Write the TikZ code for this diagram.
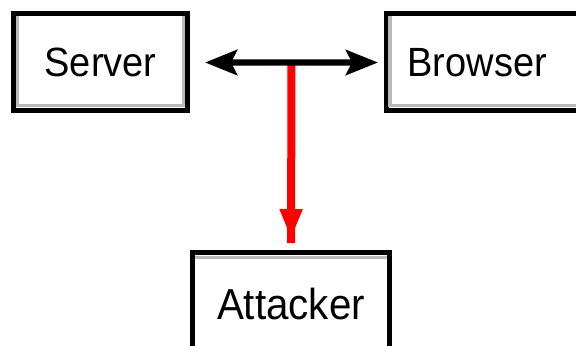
\documentclass[tikz,border=0pt]{standalone}
\usepackage{fontspec}
\setmainfont[FakeStretch=0.93]{Liberation Sans}
\usetikzlibrary{arrows.meta,calc,decorations.markings}
\begin{document}
\begin{tikzpicture}[x=1bp,y=-1bp,
  box/.style={draw=black, line width=5bp, fill=white, inner ysep=0pt, text depth=0pt},
  link/.style={line width=6.4bp, {Stealth[length=32bp,width=25bp,inset=6bp]}-{Stealth[length=32bp,width=25bp,inset=6bp]}},
  leak/.style={draw=red, line width=8bp, postaction={decorate},
    decoration={markings, mark=at position -11bp with {\arrow[red]{Triangle[length=30bp,width=21bp]}}}},
  bevel/.style={draw=black!27, line width=3.5bp}
]
\useasboundingbox (0,0) rectangle (576,345);
\clip (0,0) rectangle (576,345);
\fill[white] (0,0) rectangle (576,345);
\node[box, minimum width=174bp, minimum height=97bp, text height=29.4bp, font=\fontsize{41}{48}\selectfont] (server) at (100.5,62) {Server};
\node[box, anchor=north west, minimum width=230bp, minimum height=97bp, inner xsep=21bp, text width=188bp, align=left, text height=29.4bp, font=\fontsize{41}{48}\selectfont] (browser) at (384,11) {Browser};
\node[box, anchor=north, minimum width=197bp, minimum height=103bp, text height=31.2bp, font=\fontsize{43.5}{50}\selectfont] (attacker) at (291,250) {Attacker};
\draw[bevel] ($(server.north west)+(6.5,5)$) -- ($(server.south west)+(6.5,-7.5)$) -- ($(server.south east)+(-6.5,-7.5)$) -- ($(server.north east)+(-6.5,5)$);
\draw[bevel] ($(browser.north west)+(6,5)$) -- ($(browser.south west)+(6,-7.5)$) -- ($(browser.south east)+(-6,-7.5)$);
\draw[bevel] ($(attacker.north west)+(5,7.5)$) -- ($(attacker.north east)+(-5,7.5)$);
\coordinate (L) at ($(server.east)+(15,0.5)$);
\coordinate (R) at ($(browser.west)+(-6,0.5)$);
\coordinate (j) at ($(L)!0.5!(R)$);
\draw[leak, shorten >=7bp] (j) -- (attacker.north);
\draw[link] (L) -- (R);
\end{tikzpicture}
\end{document}
